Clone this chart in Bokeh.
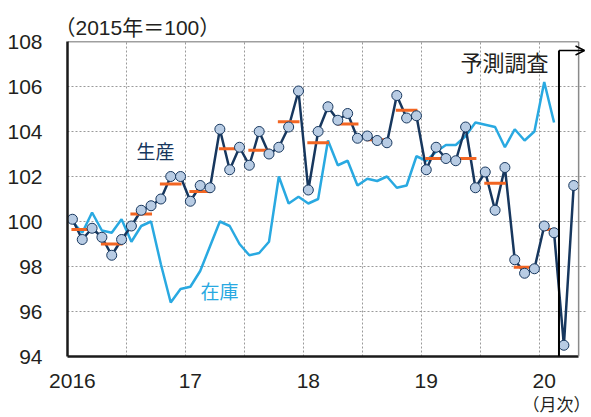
from bokeh.plotting import figure
from bokeh.models import Range1d, FixedTicker, Label, Arrow, OpenHead, Span, Title
from bokeh.embed import file_html
from bokeh.resources import INLINE

# Monthly index 0 = 2016-01 ... 51 = 2020-04
production = [100.1, 99.2, 99.7, 99.3, 98.5, 99.2, 99.8, 100.5, 100.7, 101.0, 102.0, 102.0,
              100.9, 101.6, 101.5, 104.1, 102.3, 103.3, 102.5, 104.0, 103.0, 103.3, 104.2, 105.8,
              101.4, 104.0, 105.1, 104.5, 104.8, 103.7, 103.8, 103.6, 103.5, 105.6, 104.6, 104.7,
              102.3, 103.3, 102.8, 102.7, 104.2, 101.5, 102.2, 100.5, 102.4, 98.3, 97.7, 97.9,
              99.8, 99.5, 94.5, 101.6]
# 2016-01 ... 2020-02
inventory = [100.0, 99.5, 100.4, 99.6, 99.5, 100.1, 99.1, 99.8, 100.0, 98.1, 96.4, 97.0,
             97.1, 97.8, 98.9, 100.0, 99.8, 99.0, 98.5, 98.6, 99.1, 102.0, 100.8, 101.1,
             100.8, 101.0, 103.6, 102.5, 102.7, 101.6, 101.9, 101.8, 102.0, 101.5, 101.6, 102.9,
             102.7, 103.1, 103.4, 103.4, 103.8, 104.4, 104.3, 104.2, 103.3, 104.1, 103.6, 104.0,
             106.2, 104.4]
# quarterly averages, 2016Q1 ... 2020Q1 (2020Q1 covers Jan-Feb)
quarter_avg = [99.65, 99.0, 100.33, 101.67, 101.33, 103.23, 103.17, 104.43, 103.5, 104.33,
               103.63, 104.95, 102.8, 102.8, 101.7, 97.97, 99.65]
quarter_len = [3] * 16 + [2]
year_ticks = [0, 12, 24, 36, 48]
year_labels = ["2016", "17", "18", "19", "20"]
y_ticks = [94, 96, 98, 100, 102, 104, 106, 108]

NAVY = "#17375e"
MARK = "#b8cce4"
ORANGE = "#f26522"
SKY = "#29a9e1"
TXT = "#231f20"
cjk = "Noto Sans CJK JP"
mixed = "Liberation Sans, Noto Sans CJK JP"

x_lo, x_hi = -0.5, len(production) - 0.5   # plotted frame area
x_view_hi = x_hi + 0.8                      # room for the forecast arrow
y_lo, y_hi = y_ticks[0], y_ticks[-1]

p = figure(width=591, height=417, output_backend="svg", toolbar_location=None,
           x_range=Range1d(x_lo, x_view_hi), y_range=Range1d(y_lo, y_hi),
           min_border_left=67, min_border_right=5, min_border_top=41, min_border_bottom=60,
           title="（2015年＝100）")
p.background_fill_color = "white"
p.border_fill_color = "white"
p.outline_line_color = None

p.title.align = "left"
p.title.offset = -13
p.title.standoff = 5
p.title.text_font = mixed
p.title.text_font_size = "21px"
p.title.text_font_style = "normal"
p.title.text_color = TXT

for ax in (p.xaxis, p.yaxis):
    ax.axis_line_width = 2.5
    ax.axis_line_color = "#1a1a1a"
    ax.major_tick_line_color = None
    ax.minor_tick_line_color = None
    ax.major_label_text_font = "Liberation Sans"
    ax.major_label_text_font_size = "21px"
    ax.major_label_text_color = TXT

p.xaxis.ticker = FixedTicker(ticks=year_ticks)
p.xaxis.major_label_overrides = {t: l for t, l in zip(year_ticks, year_labels)}
p.xaxis.major_label_standoff = 11
p.xaxis.bounds = (x_lo, x_hi)
p.yaxis.ticker = FixedTicker(ticks=y_ticks)
p.yaxis.major_label_standoff = 19

p.add_layout(Title(text="（月次）", align="right", offset=-4, standoff=0, vertical_align="top",
                   text_font=cjk, text_font_size="17px", text_font_style="normal",
                   text_color=TXT), "below")

p.xgrid.ticker = FixedTicker(ticks=[t - 0.5 for t in range(6, 52, 6)])
p.ygrid.ticker = FixedTicker(ticks=y_ticks[1:-1])
p.ygrid.bounds = (x_lo, x_hi)
for g in (p.xgrid, p.ygrid):
    g.grid_line_color = "#9a9a9a"
    g.grid_line_dash = "2 2"
    g.grid_line_width = 1

# frame: top and right borders
p.segment(x0=[x_lo], y0=[y_hi], x1=[x_hi], y1=[y_hi], line_color="#404040", line_width=1.5)
p.add_layout(Span(location=x_hi, dimension="height", line_color="#8a8a8a", line_width=1.5))

xs_p = list(range(len(production)))
xs_i = list(range(len(inventory)))

p.line(xs_i, inventory, line_color=SKY, line_width=2.5)
p.line(xs_p, production, line_color=NAVY, line_width=2.5)

qx0, qx1 = [], []
start = 0
for n in quarter_len:
    qx0.append(start - 0.1)
    qx1.append(start + n - 1 + 0.1)
    start += n
p.segment(x0=qx0, y0=quarter_avg, x1=qx1, y1=quarter_avg, line_color=ORANGE, line_width=3)

p.scatter(xs_p, production, size=10, fill_color=MARK, line_color=NAVY, line_width=1)

# forecast bracket (survey-based forecast starts after 2020-02)
fc = len(inventory) - 0.5
yb = 107.6
p.add_layout(Arrow(end=None, x_start=fc, y_start=y_lo, x_end=fc, y_end=yb,
                   line_color="black", line_width=2))
p.add_layout(Arrow(end=OpenHead(size=9, line_width=1.5, line_color="black"),
                   x_start=fc, y_start=yb, x_end=x_hi + 0.6, y_end=yb,
                   line_color="black", line_width=1.5))

p.add_layout(Label(x=48.43, y=107.13, text="予測調査", text_align="right", text_baseline="middle",
                   text_font=cjk, text_font_size="22px", text_color=TXT))
p.add_layout(Label(x=8.45, y=103.14, text="生産", text_align="center", text_baseline="middle",
                   text_font=cjk, text_font_size="19px", text_color=NAVY))
p.add_layout(Label(x=14.96, y=96.92, text="在庫", text_align="center", text_baseline="middle",
                   text_font=cjk, text_font_size="19px", text_color=SKY))

open("out.html", "w").write(file_html(p, INLINE))
